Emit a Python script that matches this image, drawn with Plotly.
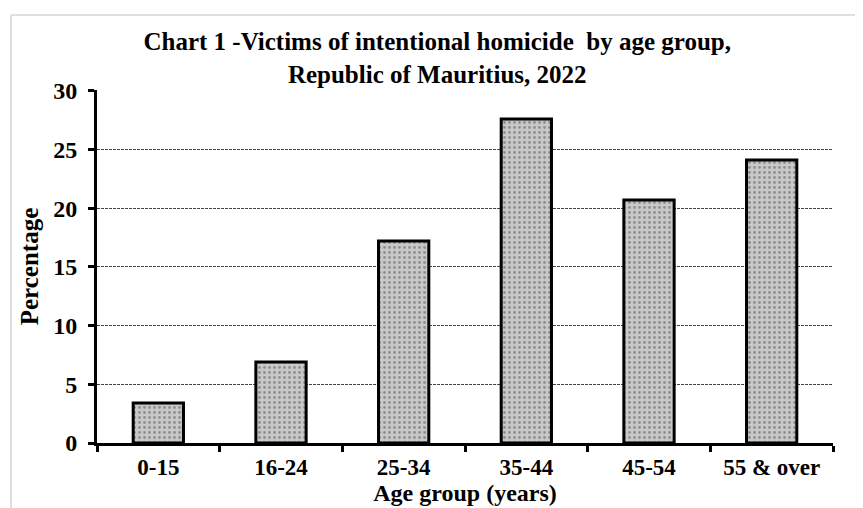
import plotly.graph_objects as go

age_groups = ["0-15", "16-24", "25-34", "35-44", "45-54", "55 & over"]
percentages = [3.4, 6.9, 17.2, 27.6, 20.7, 24.1]

SERIF = "Liberation Serif, Times New Roman, serif"

fig = go.Figure()
fig.add_trace(go.Bar(
    x=age_groups,
    y=percentages,
    width=0.41,
    marker=dict(
        color="#c8c8c8",
        line=dict(color="black", width=3),
        pattern=dict(shape=".", fgcolor="#555555", bgcolor="#c8c8c8", size=5, solidity=0.25),
    ),
    hoverinfo="x+y",
))

# page body has an 8px margin, so the figure is 8px smaller and shifted
fig.update_layout(
    width=855, height=500,
    margin=dict(l=89, r=30, t=82, b=65, autoexpand=False),
    paper_bgcolor="white", plot_bgcolor="white",
    showlegend=False,
    title=dict(
        text="Chart 1 -Victims of intentional homicide  by age group,<br>Republic of Mauritius, 2022",
        x=0.502, xanchor="center", y=0.916, yanchor="middle",
        font=dict(family=SERIF, size=25, color="black", weight="bold"),
    ),
    font=dict(family=SERIF, color="black"),
)

fig.update_yaxes(
    range=[0, 30.06], tickvals=[0, 5, 10, 15, 20, 25, 30],
    showline=True, linecolor="black", linewidth=3,
    ticks="outside", ticklen=6, tickwidth=3, tickcolor="black",
    ticklabelstandoff=6,
    tickfont=dict(family=SERIF, size=24, color="black", weight="bold"),
    showgrid=True, gridcolor="#444444", gridwidth=1, griddash="3px,1px",
    zeroline=False,
    title=dict(text="Percentage", font=dict(family=SERIF, size=25, color="black", weight="bold"), standoff=8),
    fixedrange=True,
    automargin=False,
)
fig.update_xaxes(
    showline=True, linecolor="black", linewidth=3,
    ticks="outside", ticklen=6, tickwidth=3, tickcolor="black",
    tickson="boundaries",
    ticklabelstandoff=1,
    tickfont=dict(family=SERIF, size=23, color="black", weight="bold"),
    title=dict(text="Age group (years)", font=dict(family=SERIF, size=24, color="black", weight="bold"), standoff=3),
    range=[-0.5, 5.5],
    fixedrange=True,
    automargin=False,
)

fig.add_shape(
    type="rect", xref="paper", yref="paper",
    x0=-0.1168, y0=-0.5, x1=1.5, y1=1.2125,
    line=dict(color="#c0c0c0", width=1), fillcolor="rgba(0,0,0,0)", layer="below",
)

fig.write_html("out.html")
